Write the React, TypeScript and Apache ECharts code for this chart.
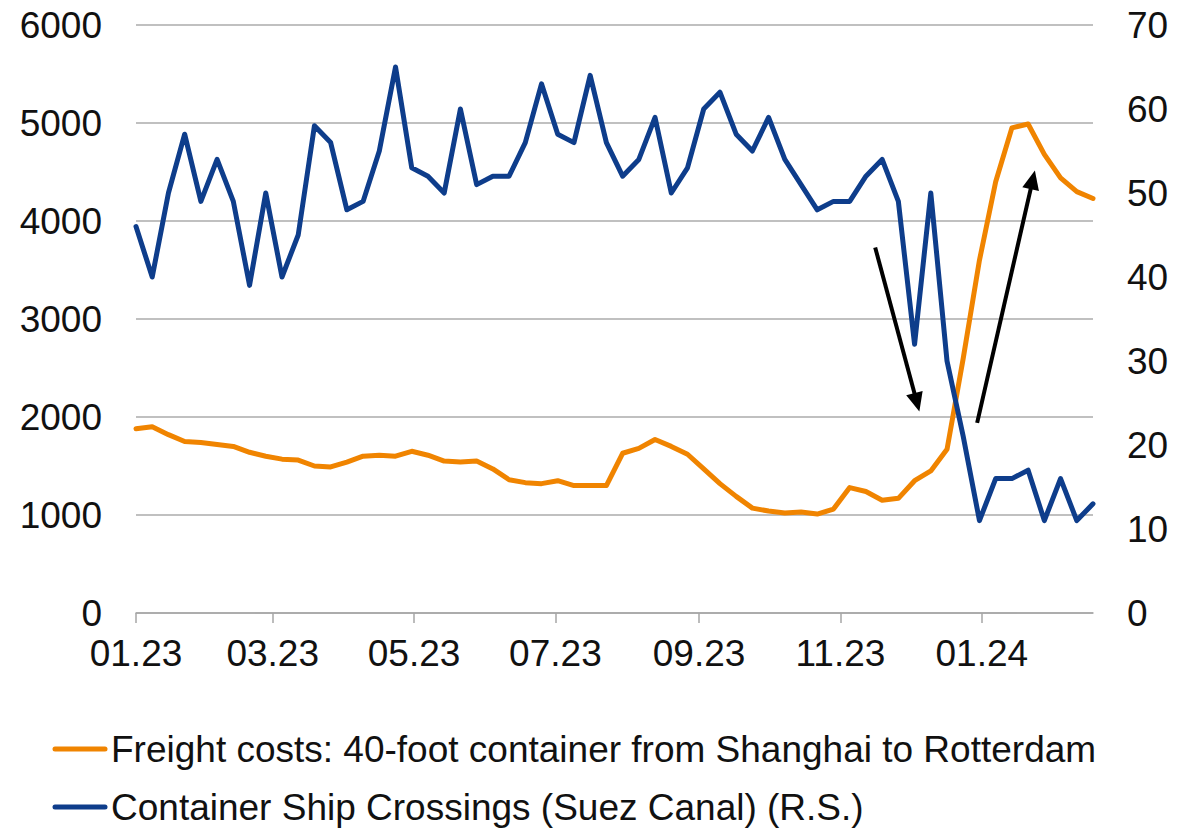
import React, { useEffect, useRef } from "react";
import * as echarts from "echarts";

const weeks = [
  "2023-01-01", "2023-01-08", "2023-01-15", "2023-01-22", "2023-01-29",
  "2023-02-05", "2023-02-12", "2023-02-19", "2023-02-26",
  "2023-03-05", "2023-03-12", "2023-03-19", "2023-03-26",
  "2023-04-02", "2023-04-09", "2023-04-16", "2023-04-23", "2023-04-30",
  "2023-05-07", "2023-05-14", "2023-05-21", "2023-05-28",
  "2023-06-04", "2023-06-11", "2023-06-18", "2023-06-25",
  "2023-07-02", "2023-07-09", "2023-07-16", "2023-07-23", "2023-07-30",
  "2023-08-06", "2023-08-13", "2023-08-20", "2023-08-27",
  "2023-09-03", "2023-09-10", "2023-09-17", "2023-09-24",
  "2023-10-01", "2023-10-08", "2023-10-15", "2023-10-22", "2023-10-29",
  "2023-11-05", "2023-11-12", "2023-11-19", "2023-11-26",
  "2023-12-03", "2023-12-10", "2023-12-17", "2023-12-24", "2023-12-31",
  "2024-01-07", "2024-01-14", "2024-01-21", "2024-01-28",
  "2024-02-04", "2024-02-11", "2024-02-18",
];

const freightCosts = [
  1880, 1900, 1820, 1750, 1740, 1720, 1700, 1640, 1600, 1570,
  1560, 1500, 1490, 1540, 1600, 1610, 1600, 1650, 1610, 1550,
  1540, 1550, 1470, 1360, 1330, 1320, 1350, 1300, 1300, 1300,
  1630, 1680, 1770, 1700, 1620, 1470, 1320, 1190, 1070, 1040,
  1020, 1030, 1010, 1060, 1280, 1240, 1150, 1170, 1350, 1450,
  1670, 2600, 3600, 4400, 4950, 4990, 4680, 4440, 4300, 4230,
];

const suezCrossings = [
  46, 40, 50, 57, 49, 54, 49, 39, 50, 40,
  45, 58, 56, 48, 49, 55, 65, 53, 52, 50,
  60, 51, 52, 52, 56, 63, 57, 56, 64, 56,
  52, 54, 59, 50, 53, 60, 62, 57, 55, 59,
  54, 51, 48, 49, 49, 52, 54, 49, 32, 50,
  30, 21, 11, 16, 16, 17, 11, 16, 11, 13,
];

const monthTicks = [
  "2023-01-01", "2023-03-01", "2023-05-01", "2023-07-01",
  "2023-09-01", "2023-11-01", "2024-01-01",
];
const monthLabels = ["01.23", "03.23", "05.23", "07.23", "09.23", "11.23", "01.24"];

// Annotation arrows in left-axis data coordinates: [date, value]
const arrowStarts: [string, number][] = [["2023-11-16", 3730], ["2023-12-30", 1940]];
const arrowEnds: [string, number][] = [["2023-12-04", 2150], ["2024-01-23", 4420]];

const seriesNames = [
  "Freight costs: 40-foot container from Shanghai to Rotterdam",
  "Container Ship Crossings (Suez Canal) (R.S.)",
];

const FONT = "'Liberation Sans', Arial, sans-serif";
const ORANGE = "#f08400";
const BLUE = "#0e3d8b";
const COLORS = [ORANGE, BLUE];

// day offset from the first week, used as the x coordinate
function dayOf(s: string) {
  const [y, m, d] = s.split("-").map(Number);
  const [y0, m0, d0] = weeks[0].split("-").map(Number);
  return Math.round((Date.UTC(y, m - 1, d) - Date.UTC(y0, m0 - 1, d0)) / 86400000);
}

export default function App() {
  const ref = useRef<HTMLDivElement>(null);

  useEffect(() => {
    if (!ref.current) return;
    const chart = echarts.init(ref.current, undefined, { renderer: "svg" });

    const textStyle = { fontFamily: FONT, fontSize: 37, color: "#111" };
    const tickDays = monthTicks.map(dayOf);

    const legendGraphics: any[] = [];
    seriesNames.forEach((name, i) => {
      const cy = 749 + i * 58;
      legendGraphics.push({
        type: "line",
        silent: true,
        shape: { x1: 55, y1: cy, x2: 105, y2: cy },
        style: { stroke: COLORS[i], lineWidth: 5, lineCap: "round" },
      });
      legendGraphics.push({
        type: "text",
        silent: true,
        x: 111,
        y: cy,
        style: {
          text: name,
          fill: "#111",
          font: `37px ${FONT}`,
          textVerticalAlign: "middle",
          verticalAlign: "middle",
          textAlign: "left",
        },
      });
    });

    const option: any = {
      animation: false,
      textStyle: { fontFamily: FONT },
      grid: {
        left: 136,
        right: 98,
        top: 25,
        bottom: 216,
        containLabel: false,
        outerBoundsMode: "none",
      },
      graphic: legendGraphics,
      xAxis: {
        type: "value",
        min: dayOf(weeks[0]),
        max: dayOf(weeks[weeks.length - 1]),
        axisLine: { show: true, lineStyle: { color: "#a6a6a6", width: 1.5 } },
        axisTick: {
          show: true,
          length: 10,
          customValues: tickDays,
          lineStyle: { color: "#a6a6a6", width: 1.5 },
        },
        axisLabel: {
          ...textStyle,
          margin: 22,
          customValues: tickDays,
          hideOverlap: false,
          formatter: (val: number) => {
            const i = tickDays.indexOf(Math.round(val));
            return i >= 0 ? monthLabels[i] : "";
          },
        },
        splitLine: { show: false },
      },
      yAxis: [
        {
          type: "value",
          min: 0,
          max: 6000,
          interval: 1000,
          position: "left",
          axisLine: { show: false },
          axisTick: { show: false },
          axisLabel: { ...textStyle, margin: 34, formatter: (v: number) => String(v) },
          splitLine: { show: true, lineStyle: { color: "#ababab", width: 1.5 } },
        },
        {
          type: "value",
          min: 0,
          max: 70,
          interval: 10,
          position: "right",
          axisLine: { show: false },
          axisTick: { show: false },
          axisLabel: { ...textStyle, margin: 34, formatter: (v: number) => String(v) },
          splitLine: { show: false },
        },
      ],
      series: [
        {
          name: seriesNames[0],
          type: "line",
          yAxisIndex: 0,
          data: weeks.map((w, i) => [dayOf(w), freightCosts[i]]),
          symbol: "none",
          showSymbol: false,
          lineStyle: { color: ORANGE, width: 5, cap: "round", join: "round" },
          itemStyle: { color: ORANGE },
          emphasis: { disabled: true },
          markLine: {
            silent: true,
            symbol: ["none", "triangle"],
            symbolSize: [17, 19],
            label: { show: false },
            emphasis: { disabled: true },
            lineStyle: { color: "#000", width: 4, type: "solid" },
            itemStyle: { color: "#000" },
            data: arrowStarts.map((s, i) => [
              { coord: [dayOf(s[0]), s[1]] },
              { coord: [dayOf(arrowEnds[i][0]), arrowEnds[i][1]] },
            ]),
          },
        },
        {
          name: seriesNames[1],
          type: "line",
          yAxisIndex: 1,
          data: weeks.map((w, i) => [dayOf(w), suezCrossings[i]]),
          symbol: "none",
          showSymbol: false,
          lineStyle: { color: BLUE, width: 5, cap: "round", join: "round" },
          itemStyle: { color: BLUE },
          emphasis: { disabled: true },
        },
      ],
    };

    chart.setOption(option);
    return () => chart.dispose();
  }, []);

  return (
    <div
      ref={ref}
      style={{ position: "fixed", left: 0, top: 0, width: 1191, height: 829, background: "#fff" }}
    />
  );
}
